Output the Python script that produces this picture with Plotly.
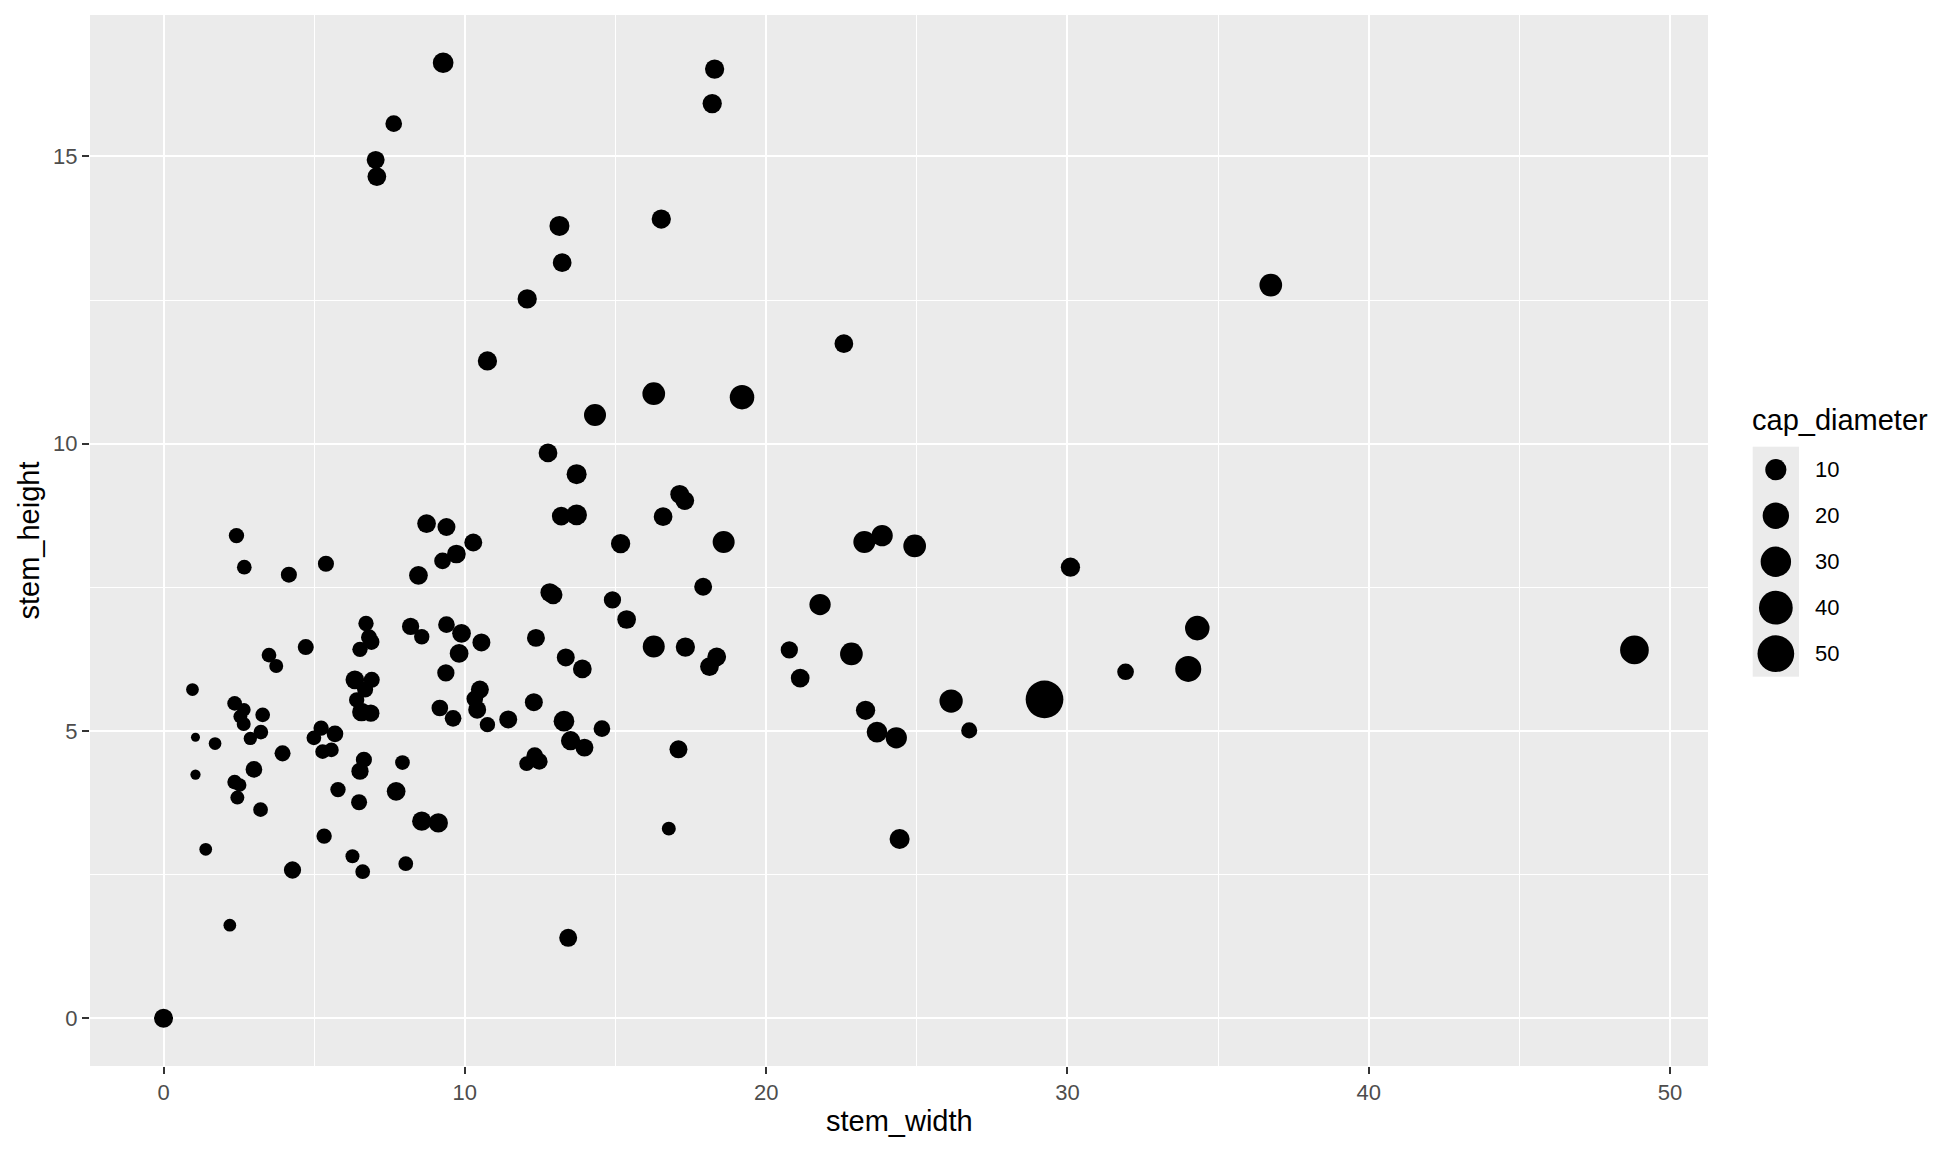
import math
import plotly.graph_objects as go

# ---- data ----
stem_width = [
    2.42, 2.68, 4.16, 5.39, 8.46, 6.72, 6.82, 6.90, 6.52, 8.20, 8.57, 3.50, 3.74, 4.72, 0.96,
    2.36, 2.67, 2.55, 2.66, 3.29, 3.23, 2.88, 1.06, 1.71, 3.95, 5.23, 5.69, 4.99, 5.28, 5.57,
    6.35, 6.91, 6.69, 6.41, 6.57, 6.88, 1.06, 3.00, 2.36, 2.53, 2.45, 3.22, 6.65, 6.52, 7.93,
    7.72, 5.79, 6.49, 8.57, 5.33, 1.40, 4.28, 6.27, 6.61, 8.04, 2.20,
    13.71, 17.13, 17.30, 8.73, 9.39, 13.20, 13.71, 16.58, 10.28, 9.26, 9.72, 15.17, 17.91,
    12.82, 12.93, 14.90, 15.37, 9.39, 9.89, 10.55, 9.81, 9.37, 12.36, 13.35, 13.90, 16.27,
    17.32, 10.50, 10.33, 10.41, 10.75, 11.44, 9.17, 9.61, 12.29, 13.29, 13.51, 13.97, 14.55,
    12.32, 12.47, 12.05, 17.09, 9.12, 16.77, 13.43,
    18.59, 23.26, 23.85, 24.93, 30.10, 21.79, 18.36, 18.12, 20.77, 21.13, 22.83, 26.14,
    29.24, 23.30, 23.68, 24.32, 26.74, 24.43,
    9.28, 18.29, 18.21, 7.64, 7.04, 7.08, 13.14, 16.52, 13.23, 12.07, 10.75, 16.27, 19.20,
    14.32, 12.76,
    36.75, 48.82, 34.31, 34.01, 31.93, 22.58, 0.0,
]
stem_height = [
    8.40, 7.85, 7.72, 7.91, 7.71, 6.87, 6.63, 6.55, 6.42, 6.82, 6.64, 6.32, 6.13, 6.46, 5.72,
    5.48, 5.37, 5.25, 5.12, 5.28, 4.98, 4.87, 4.89, 4.78, 4.61, 5.05, 4.95, 4.88, 4.64, 4.67,
    5.89, 5.89, 5.72, 5.54, 5.33, 5.31, 4.24, 4.33, 4.11, 4.06, 3.84, 3.63, 4.50, 4.30, 4.45,
    3.95, 3.98, 3.76, 3.43, 3.17, 2.94, 2.58, 2.82, 2.55, 2.69, 1.62,
    9.47, 9.12, 9.01, 8.61, 8.55, 8.74, 8.76, 8.73, 8.28, 7.96, 8.08, 8.26, 7.51,
    7.41, 7.37, 7.28, 6.94, 6.85, 6.70, 6.54, 6.35, 6.01, 6.62, 6.28, 6.08, 6.47,
    6.46, 5.72, 5.56, 5.37, 5.11, 5.20, 5.40, 5.22, 5.50, 5.17, 4.83, 4.71, 5.04,
    4.57, 4.47, 4.43, 4.68, 3.40, 3.30, 1.40,
    8.29, 8.29, 8.40, 8.22, 7.85, 7.20, 6.29, 6.12, 6.41, 5.92, 6.34, 5.52,
    5.55, 5.36, 4.98, 4.88, 5.01, 3.12,
    16.63, 16.52, 15.92, 15.57, 14.94, 14.65, 13.79, 13.91, 13.15, 12.52, 11.44, 10.87, 10.81,
    10.50, 9.84,
    12.76, 6.41, 6.79, 6.08, 6.03, 11.74, 0.0,
]
cap_diameter = [
    3.1, 2.6, 3.7, 3.7, 6.6, 3.1, 3.7, 3.7, 3.1, 4.9, 3.1, 2.6, 2.1, 3.7, 1.4,
    2.6, 1.7, 2.1, 2.1, 2.6, 2.6, 1.7, 0.5, 1.4, 3.7, 3.1, 4.3, 2.6, 2.6, 2.6,
    6.6, 3.7, 3.7, 3.1, 6.6, 4.9, 0.6, 4.3, 2.6, 1.7, 2.1, 2.6, 3.7, 4.9, 2.6,
    6.6, 3.1, 3.7, 7.3, 3.1, 1.4, 4.9, 2.1, 2.6, 2.6, 1.4,
    8.3, 6.6, 6.6, 6.6, 5.7, 6.6, 9.3, 6.6, 5.7, 4.3, 6.6, 7.3, 5.7,
    6.6, 6.6, 4.9, 6.6, 4.3, 6.6, 5.7, 6.6, 4.9, 5.7, 5.7, 6.6, 11.4,
    7.3, 5.7, 4.3, 5.7, 3.1, 5.7, 4.3, 4.3, 5.7, 9.3, 7.3, 5.7, 4.3,
    4.3, 4.3, 2.6, 5.7, 7.3, 2.1, 5.7,
    11.4, 11.4, 10.2, 12.6, 7.3, 10.2, 6.6, 6.6, 4.9, 6.6, 12.6, 13.7,
    53.5, 7.3, 9.3, 10.2, 3.7, 8.3,
    9.3, 7.3, 7.3, 4.3, 5.7, 6.6, 8.3, 7.3, 6.6, 7.3, 7.3, 12.6, 16.0,
    11.4, 6.6,
    12.6, 25.5, 16.0, 19.2, 4.3, 6.6, 6.9,
]
legend_breaks = [10, 20, 30, 40, 50]
x_ticks = [0, 10, 20, 30, 40, 50]
y_ticks = [0, 5, 10, 15]

# ---- size scale (area scale, like ggplot's scale_size) ----
D_MIN, D_MAX = 9.0, 37.7
vmin, vmax = min(cap_diameter), max(cap_diameter)


def size_of(v):
    return D_MIN + (D_MAX - D_MIN) * math.sqrt(max(v - vmin, 0) / (vmax - vmin))


def expand(vals, f=0.05):
    lo, hi = min(vals), max(vals)
    s = hi - lo
    return [lo - f * s, hi + f * s]


# the page body has an 8px margin; work in page coordinates and shift
OFF = 8
PAGE_W, PAGE_H = 1958, 1152
W, H = PAGE_W - 2 * OFF, PAGE_H - 2 * OFF
# plot-area edges in page coordinates
P_LEFT, P_RIGHT, P_TOP, P_BOTTOM = 90, 1708, 15, 1066
ML = P_LEFT - OFF
MT = P_TOP - OFF
MB = (OFF + H) - P_BOTTOM
MR = 0
PW = W - ML - MR
PH = H - MT - MB


def px_x(x):
    return (x - OFF - ML) / PW


def px_y(y):
    return (OFF + H - MB - y) / PH


FONT = "Liberation Sans, Arial, Helvetica, sans-serif"
BG = "#EBEBEB"
TITLE_SIZE = 29
TICK_SIZE = 22

fig = go.Figure()
fig.add_trace(go.Scatter(
    x=stem_width, y=stem_height, mode="markers",
    marker=dict(color="black", opacity=1, size=[size_of(v) for v in cap_diameter], line=dict(width=0)),
    showlegend=False, xaxis="x", yaxis="y",
))

# size legend drawn on its own small axes
key_y = list(range(len(legend_breaks), 0, -1))
fig.add_trace(go.Scatter(
    x=[0.5] * len(legend_breaks), y=key_y, mode="markers",
    marker=dict(color="black", opacity=1, size=[size_of(b) for b in legend_breaks], line=dict(width=0)),
    showlegend=False, xaxis="x2", yaxis="y2", cliponaxis=False, hoverinfo="skip",
))

fig.update_layout(
    width=W, height=H,
    margin=dict(l=ML, r=MR, t=MT, b=MB),
    paper_bgcolor="white", plot_bgcolor=BG,
    font=dict(family=FONT, color="black"),
    xaxis=dict(
        domain=[0, px_x(P_RIGHT)], range=expand(stem_width), tickvals=x_ticks,
        showgrid=True, gridcolor="white", gridwidth=2.1, zeroline=False,
        ticks="outside", ticklen=7, tickwidth=2, tickcolor="#333333",
        tickfont=dict(size=TICK_SIZE, color="#4D4D4D", family=FONT),
        minor=dict(dtick=5, tick0=0, showgrid=True, gridcolor="white", gridwidth=1.1, ticks=""),
        showline=False, anchor="y",
    ),
    yaxis=dict(
        domain=[0, 1], range=expand(stem_height), tickvals=y_ticks,
        showgrid=True, gridcolor="white", gridwidth=2.1, zeroline=False,
        ticks="outside", ticklen=7, tickwidth=2, tickcolor="#333333",
        tickfont=dict(size=TICK_SIZE, color="#4D4D4D", family=FONT),
        minor=dict(dtick=2.5, tick0=0, showgrid=True, gridcolor="white", gridwidth=1.1, ticks=""),
        showline=False, anchor="x",
    ),
    xaxis2=dict(
        domain=[px_x(1752.7), px_x(1799)], range=[0, 1], anchor="y2",
        showgrid=False, zeroline=False, showticklabels=False, ticks="", fixedrange=True,
    ),
    yaxis2=dict(
        domain=[px_y(676.7), px_y(446.7)], range=[0.5, len(legend_breaks) + 0.5], anchor="x2",
        showgrid=False, zeroline=False, showticklabels=False, ticks="", fixedrange=True,
    ),
)

annotations = [
    dict(text="stem_width", x=px_x((P_LEFT + P_RIGHT) / 2), y=px_y(1121), xref="paper", yref="paper",
         showarrow=False, xanchor="center", yanchor="middle", font=dict(size=TITLE_SIZE, color="black")),
    dict(text="stem_height", x=px_x(28), y=px_y((P_TOP + P_BOTTOM) / 2), xref="paper", yref="paper",
         showarrow=False, xanchor="center", yanchor="middle", textangle=-90,
         font=dict(size=TITLE_SIZE, color="black")),
    dict(text="cap_diameter", x=px_x(1750), y=px_y(420), xref="paper", yref="paper",
         showarrow=False, xanchor="left", yanchor="middle", font=dict(size=TITLE_SIZE, color="black")),
]
for b, ky in zip(legend_breaks, key_y):
    annotations.append(dict(text=str(b), x=px_x(1813), y=ky, xref="paper", yref="y2",
                            showarrow=False, xanchor="left", yanchor="middle",
                            font=dict(size=TICK_SIZE, color="black")))
fig.update_layout(annotations=annotations)

fig.write_html("out.html")
